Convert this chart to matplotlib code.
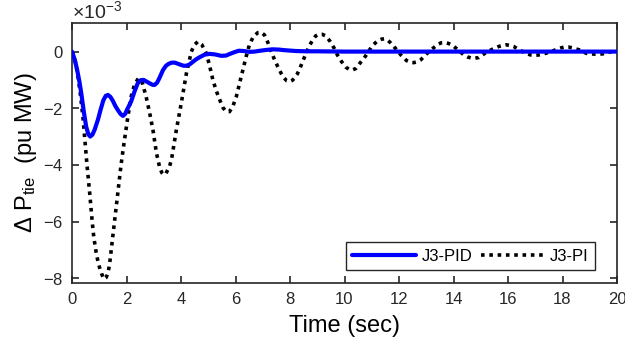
import matplotlib
matplotlib.use("Agg")
import matplotlib.pyplot as plt
from matplotlib.ticker import ScalarFormatter

plt.rcParams['font.family'] = ['Liberation Sans', 'DejaVu Sans']
plt.rcParams['mathtext.fontset'] = 'custom'
plt.rcParams['mathtext.rm'] = 'Liberation Sans'
plt.rcParams['mathtext.it'] = 'Liberation Sans:italic'

# Tie-line power deviation (units of 1e-3 pu MW) versus time (s)
t_pid = [0.0, 0.10, 0.19, 0.27, 0.34, 0.43, 0.52, 0.60, 0.67, 0.75, 0.83, 0.95,
         1.05, 1.15, 1.24, 1.32, 1.41, 1.50, 1.59, 1.68, 1.78, 1.87, 1.95, 2.02,
         2.10, 2.17, 2.29, 2.41, 2.52, 2.63, 2.74, 2.85, 2.95, 3.03, 3.12, 3.20,
         3.34, 3.45, 3.55, 3.66, 3.77, 3.89, 4.00, 4.10, 4.20, 4.32, 4.45, 4.56,
         4.68, 4.86, 5.05, 5.25, 5.48, 5.65, 5.80, 5.96, 6.12, 6.31, 6.51, 6.70,
         6.90, 7.14, 7.37, 7.60, 7.80, 8.22, 8.60, 9.0, 10.0, 12.0, 14.0, 16.0,
         18.0, 20.0]
dp_pid = [0.0, -0.28, -0.65, -1.05, -1.47, -2.10, -2.65, -2.92, -3.00, -2.93, -2.76, -2.41,
          -2.05, -1.72, -1.56, -1.53, -1.60, -1.74, -1.92, -2.06, -2.20, -2.27, -2.20, -2.05,
          -1.90, -1.76, -1.42, -1.12, -1.01, -1.00, -1.06, -1.12, -1.17, -1.18, -1.10, -0.95,
          -0.65, -0.50, -0.43, -0.39, -0.39, -0.43, -0.47, -0.50, -0.50, -0.45, -0.35, -0.27,
          -0.20, -0.11, -0.08, -0.10, -0.15, -0.14, -0.08, -0.02, 0.03, 0.02, -0.01, 0.00,
          0.03, 0.06, 0.08, 0.07, 0.05, 0.02, 0.01, 0.01, 0.0, 0.0, 0.0, 0.0,
          0.0, 0.0]

t_pi = [0.0, 0.10, 0.20, 0.30, 0.40, 0.47, 0.55, 0.65, 0.74, 0.80, 0.87, 0.94,
        1.01, 1.09, 1.17, 1.25, 1.32, 1.38, 1.44, 1.56, 1.68, 1.80, 1.90, 2.05,
        2.17, 2.30, 2.44, 2.58, 2.72, 2.85, 2.97, 3.10, 3.22, 3.30, 3.37, 3.44,
        3.50, 3.58, 3.65, 3.83, 4.01, 4.20, 4.38, 4.50, 4.62, 4.76, 4.93, 5.05,
        5.17, 5.30, 5.42, 5.54, 5.66, 5.78, 5.90, 6.03, 6.15, 6.27, 6.39, 6.51,
        6.65, 6.82, 6.94, 7.06, 7.18, 7.31, 7.43, 7.55, 7.68, 7.78, 7.88, 7.98,
        8.08, 8.15, 8.25, 8.34, 8.46, 8.59, 8.71, 8.83, 8.94, 9.05, 9.18, 9.32,
        9.48, 9.62, 9.74, 9.89, 10.05, 10.17, 10.29, 10.41, 10.54, 10.72, 10.87, 11.02,
        11.23, 11.36, 11.48, 11.59, 11.70, 11.90, 12.07, 12.28, 12.41, 12.54, 12.67, 12.80,
        13.00, 13.20, 13.43, 13.55, 13.68, 13.81, 13.95, 14.17, 14.38, 14.52, 14.66, 14.80,
        14.93, 15.15, 15.42, 15.66, 15.80, 15.93, 16.07, 16.21, 16.45, 16.70, 16.84, 16.98,
        17.12, 17.27, 17.53, 17.79, 17.94, 18.08, 18.22, 18.37, 18.62, 18.87, 19.03, 19.20,
        19.34, 19.48, 19.71, 20.0]
dp_pi = [0.0, -0.25, -0.75, -1.45, -2.30, -3.10, -4.00, -5.00, -6.00, -6.55, -7.00, -7.35,
         -7.62, -7.85, -8.03, -7.98, -7.82, -7.50, -7.00, -6.00, -5.00, -4.00, -3.29, -2.30,
         -1.59, -1.15, -0.94, -1.10, -1.59, -2.17, -2.76, -3.59, -4.10, -4.28, -4.35, -4.32,
         -4.20, -4.05, -3.82, -2.76, -1.82, -0.76, 0.00, 0.25, 0.35, 0.25, -0.06, -0.50,
         -1.00, -1.40, -1.70, -1.98, -2.12, -2.12, -1.94, -1.59, -1.12, -0.65, -0.18, 0.24,
         0.52, 0.67, 0.68, 0.59, 0.34, 0.00, -0.28, -0.53, -0.78, -0.93, -1.03, -1.06,
         -1.02, -0.95, -0.82, -0.65, -0.36, -0.06, 0.20, 0.41, 0.55, 0.61, 0.61, 0.55,
         0.35, 0.12, -0.12, -0.35, -0.55, -0.63, -0.65, -0.60, -0.44, -0.23, -0.02, 0.21,
         0.39, 0.44, 0.45, 0.40, 0.30, 0.08, -0.12, -0.32, -0.38, -0.39, -0.36, -0.29,
         -0.09, 0.08, 0.26, 0.31, 0.32, 0.29, 0.23, 0.06, -0.12, -0.19, -0.23, -0.23,
         -0.21, -0.06, 0.08, 0.18, 0.22, 0.24, 0.22, 0.18, 0.04, -0.08, -0.12, -0.13,
         -0.12, -0.09, -0.02, 0.08, 0.13, 0.16, 0.16, 0.13, 0.06, -0.06, -0.08, -0.09,
         -0.09, -0.08, -0.02, 0.03]

x_ticks = list(range(0, 21, 2))
y_ticks = [-8, -6, -4, -2, 0]
scale = 1e-3

fig = plt.figure(figsize=(6.25, 3.44), dpi=100)
ax = fig.add_axes([0.1152, 0.1765, 0.8720, 0.7575])

ax.plot(t_pid, [v * scale for v in dp_pid], color=(0, 0, 1), lw=3.0,
        label='J3-PID', solid_joinstyle='round', solid_capstyle='round', zorder=3)
ax.plot(t_pi, [v * scale for v in dp_pi], color='black', lw=2.6,
        linestyle=(0, (1, 1.3)), label='J3-PI', zorder=2)

ax.set_xlim(0, 20)
ax.set_ylim(-8.18 * scale, 1.02 * scale)
ax.set_xticks(x_ticks)
ax.set_yticks([v * scale for v in y_ticks])

fmt = ScalarFormatter(useMathText=True)
fmt.set_powerlimits((-2, 2))
ax.yaxis.set_major_formatter(fmt)

axis_col = (0.15, 0.15, 0.15)
for s in ax.spines.values():
    s.set_color(axis_col)
    s.set_linewidth(1.2)
ax.tick_params(direction='in', length=5, width=1.2, top=True, right=True,
               labelsize=12, colors=axis_col, pad=6)
ax.yaxis.get_offset_text().set_fontsize(14)
ax.yaxis.get_offset_text().set_color(axis_col)

ax.set_xlabel('Time (sec)', fontsize=17, color='black', labelpad=6)
ax.set_ylabel(r'Δ P$_{\mathrm{tie}}$  (pu MW)', fontsize=17, color='black', labelpad=3)

leg = ax.legend(loc='lower right', bbox_to_anchor=(0.96, 0.05), ncol=2,
                fontsize=12, frameon=True, fancybox=False, handlelength=3.8,
                handletextpad=0.35, columnspacing=0.5, borderaxespad=0.0,
                borderpad=0.4)
leg.get_frame().set_edgecolor(axis_col)
leg.get_frame().set_linewidth(1.0)
leg.get_frame().set_alpha(1.0)

fig.savefig('out.png', dpi=100)
